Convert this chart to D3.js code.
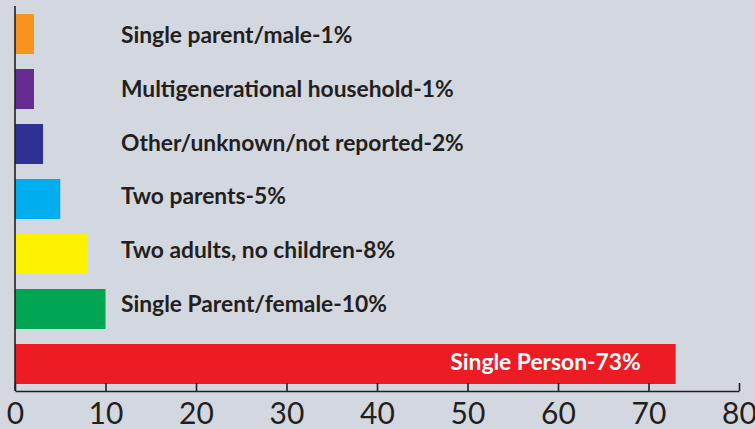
<!DOCTYPE html>
<html>
<head>
<meta charset="utf-8">
<script src="https://cdn.jsdelivr.net/npm/d3@7"></script>
<style>
  html, body { margin: 0; padding: 0; background: #d3d7df; }
  svg { display: block; }
</style>
</head>
<body>
<script>
var w = 755;
var h = 429;

// data (bar lengths as drawn, labels as printed)
var categories = ["Single parent/male", "Multigenerational household", "Other/unknown/not reported",
                  "Two parents", "Two adults, no children", "Single Parent/female", "Single Person"];
var values = [2.1, 2.1, 3.1, 5, 8, 10, 73];
var labels = ["Single parent/male-1%", "Multigenerational household-1%", "Other/unknown/not reported-2%",
              "Two parents-5%", "Two adults, no children-8%", "Single Parent/female-10%", "Single Person-73%"];
var colors = ["#f7941d", "#662d91", "#2e3192", "#00aeef", "#fff200", "#00a651", "#ed1c24"];
var ticks = [0, 10, 20, 30, 40, 50, 60, 70, 80];

var svg = d3.select("body")
            .append("svg")
            .attr("width", w)
            .attr("height", h);

var x = d3.scaleLinear().domain([0, 80]).range([15, 739]);
var y = d3.scaleBand().domain(categories).range([14, 384]).paddingInner(15 / 55).paddingOuter(0);
// labels sit on a slightly tighter spacing than the bars
var ly = d3.scalePoint().domain(categories.slice(0, 6)).range([35, 304]);

svg.selectAll("rect.bar")
   .data(categories)
   .enter()
   .append("rect")
   .attr("class", "bar")
   .attr("x", x(0))
   .attr("y", function(d) { return y(d); })
   .attr("width", function(d, i) { return x(values[i]) - x(0); })
   .attr("height", y.bandwidth())
   .style("fill", function(d, i) { return colors[i]; });

svg.selectAll("text.lab")
   .data(categories.slice(0, 6))
   .enter()
   .append("text")
   .attr("class", "lab")
   .attr("x", 121)
   .attr("y", function(d) { return ly(d) + 8; })
   .text(function(d, i) { return labels[i]; })
   .style("font-family", "Lato, 'Open Sans', sans-serif")
   .style("font-weight", "bold")
   .style("font-size", "22.8px")
   .style("fill", "#231f20");

var last = categories[6];
svg.append("text")
   .attr("x", x(values[6]) - 35)
   .attr("y", y(last) + y.bandwidth() / 2 + 6)
   .attr("text-anchor", "end")
   .text(labels[6])
   .style("font-family", "Lato, 'Open Sans', sans-serif")
   .style("font-weight", "bold")
   .style("font-size", "22.8px")
   .style("fill", "#ffffff");

// axes
var axisY = 391;
var xAxis = d3.axisBottom(x)
              .tickValues(ticks)
              .tickSize(-8)
              .tickSizeOuter(0)
              .tickPadding(12);

var gx = svg.append("g")
            .attr("transform", "translate(0," + axisY + ")")
            .call(xAxis);
gx.select(".domain").attr("stroke", "#231f20").attr("stroke-width", 1.6);
gx.selectAll(".tick line").attr("stroke", "#231f20").attr("stroke-width", 1.6);
gx.selectAll(".tick text")
  .attr("dy", "0.71em")
  .style("font-family", "Lato, 'Open Sans', sans-serif")
  .style("font-size", "30px")
  .style("fill", "#231f20");

svg.append("line")
   .attr("x1", x(0))
   .attr("x2", x(0))
   .attr("y1", 6)
   .attr("y2", axisY)
   .attr("stroke", "#231f20")
   .attr("stroke-width", 1.6);
</script>
</body>
</html>
